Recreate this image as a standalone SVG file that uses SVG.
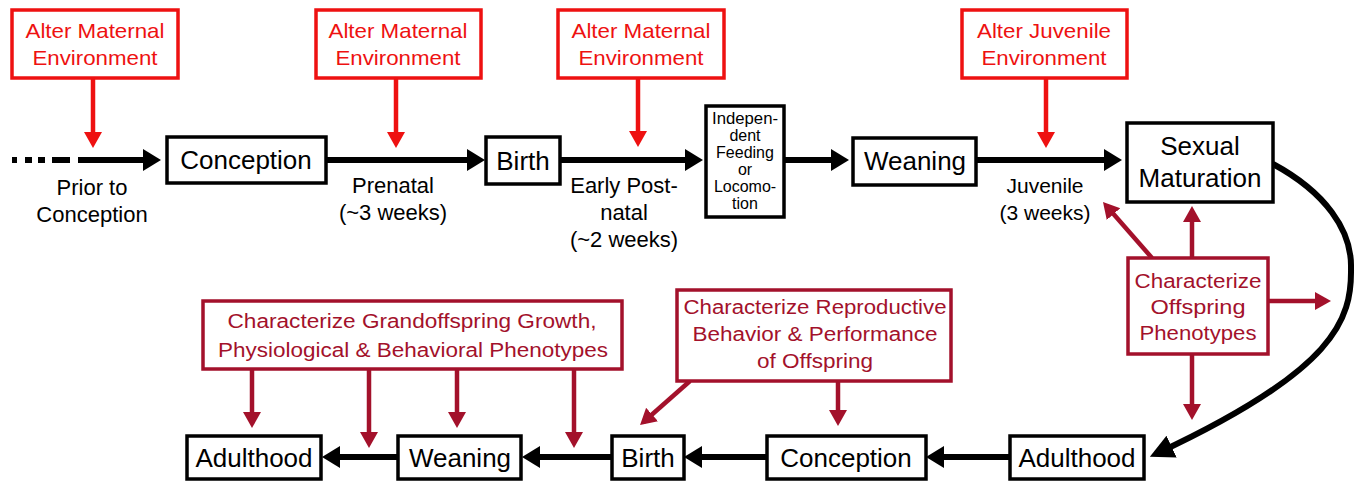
<svg xmlns="http://www.w3.org/2000/svg" width="1360" height="481" viewBox="0 0 1360 481">
<defs>
<style>
.node{fill:#fff;stroke:#000;stroke-width:3.5}
.red{fill:#fff;stroke:#ee1111;stroke-width:3.5}
.dred{fill:#fff;stroke:#a3112b;stroke-width:3.5}
.t{font-family:"Liberation Sans",Arial,sans-serif;text-anchor:middle;fill:#000}
.big{font-size:26px}
.lab{font-size:22px}
.rt{font-size:21px;fill:#ee1111}
.dt{font-size:20px;fill:#a3112b}
.bl{stroke:#000;stroke-width:6;fill:none}
.rl{stroke:#ee1111;stroke-width:4.5;fill:none}
.dl{stroke:#a3112b;stroke-width:4.5;fill:none}
</style>
<marker id="ab" markerUnits="userSpaceOnUse" markerWidth="20" markerHeight="24" refX="12" refY="11" orient="auto"><path d="M0,0 L18,11 L0,22 z" fill="#000"/></marker>
<marker id="abig" markerUnits="userSpaceOnUse" markerWidth="26" markerHeight="26" refX="15" refY="12" orient="auto"><path d="M0,0 L24,12 L0,24 z" fill="#000"/></marker>
<marker id="ar" markerUnits="userSpaceOnUse" markerWidth="20" markerHeight="22" refX="11" refY="9" orient="auto"><path d="M0,0 L16,9 L0,18 z" fill="#ee1111"/></marker>
<marker id="ad" markerUnits="userSpaceOnUse" markerWidth="20" markerHeight="22" refX="11" refY="9" orient="auto"><path d="M0,0 L16,9 L0,18 z" fill="#a3112b"/></marker>
</defs>
<rect width="1360" height="481" fill="#fff"/>

<g id="connectors">
<rect x="12" y="157" width="5" height="6" fill="#000"/>
<rect x="25" y="157" width="7" height="6" fill="#000"/>
<rect x="38" y="157" width="7" height="6" fill="#000"/>
<rect x="52" y="157" width="18" height="6" fill="#000"/>
<line class="bl" x1="78" y1="160" x2="155" y2="160" marker-end="url(#ab)"/>
<line class="bl" x1="326" y1="160" x2="479" y2="160" marker-end="url(#ab)"/>
<line class="bl" x1="560" y1="160" x2="697" y2="160" marker-end="url(#ab)"/>
<line class="bl" x1="784" y1="160" x2="843" y2="160" marker-end="url(#ab)"/>
<line class="bl" x1="976" y1="160" x2="1116" y2="160" marker-end="url(#ab)"/>
<path class="bl" d="M1273,164 C1325,192 1352,230 1351,268 C1352,320 1335,370 1158,453" marker-end="url(#abig)"/>
<line class="bl" x1="1010" y1="457" x2="932" y2="457" marker-end="url(#ab)"/>
<line class="bl" x1="767" y1="457" x2="690" y2="457" marker-end="url(#ab)"/>
<line class="bl" x1="612" y1="457" x2="528" y2="457" marker-end="url(#ab)"/>
<line class="bl" x1="398" y1="457" x2="328" y2="457" marker-end="url(#ab)"/>

<line class="rl" x1="93" y1="79" x2="93" y2="143" marker-end="url(#ar)"/>
<line class="rl" x1="396" y1="79" x2="396" y2="143" marker-end="url(#ar)"/>
<line class="rl" x1="638" y1="79" x2="638" y2="142" marker-end="url(#ar)"/>
<line class="rl" x1="1046" y1="79" x2="1046" y2="143" marker-end="url(#ar)"/>

<line class="dl" x1="1152" y1="258" x2="1106.3" y2="205.8" marker-end="url(#ad)"/>
<line class="dl" x1="1192" y1="258" x2="1192" y2="211" marker-end="url(#ad)"/>
<line class="dl" x1="1268" y1="301" x2="1326" y2="301" marker-end="url(#ad)"/>
<line class="dl" x1="1192" y1="354" x2="1192" y2="415" marker-end="url(#ad)"/>

<line class="dl" x1="690" y1="381" x2="643.8" y2="421.7" marker-end="url(#ad)"/>
<line class="dl" x1="838" y1="381" x2="838" y2="421" marker-end="url(#ad)"/>

<line class="dl" x1="252" y1="369" x2="252" y2="423" marker-end="url(#ad)"/>
<line class="dl" x1="369" y1="369" x2="369" y2="443" marker-end="url(#ad)"/>
<line class="dl" x1="457" y1="369" x2="457" y2="423" marker-end="url(#ad)"/>
<line class="dl" x1="574" y1="369" x2="574" y2="443" marker-end="url(#ad)"/>
</g>

<g id="alter1"><rect class="red" x="12" y="10" width="166" height="68"/>
<text class="t rt" x="95" y="38" textLength="139" lengthAdjust="spacingAndGlyphs">Alter Maternal</text><text class="t rt" x="95" y="65" textLength="125" lengthAdjust="spacingAndGlyphs">Environment</text></g>
<g id="alter2"><rect class="red" x="316" y="10" width="165" height="68"/>
<text class="t rt" x="398" y="38" textLength="139" lengthAdjust="spacingAndGlyphs">Alter Maternal</text><text class="t rt" x="398" y="65" textLength="125" lengthAdjust="spacingAndGlyphs">Environment</text></g>
<g id="alter3"><rect class="red" x="558" y="10" width="166" height="68"/>
<text class="t rt" x="641" y="38" textLength="139" lengthAdjust="spacingAndGlyphs">Alter Maternal</text><text class="t rt" x="641" y="65" textLength="125" lengthAdjust="spacingAndGlyphs">Environment</text></g>
<g id="alter4"><rect class="red" x="962" y="10" width="165" height="68"/>
<text class="t rt" x="1044" y="38" textLength="134" lengthAdjust="spacingAndGlyphs">Alter Juvenile</text><text class="t rt" x="1044" y="65" textLength="125" lengthAdjust="spacingAndGlyphs">Environment</text></g>

<g id="conception1"><rect class="node" x="167" y="137" width="159" height="46"/><text class="t big" x="246" y="169">Conception</text></g>
<g id="birth1"><rect class="node" x="486" y="137" width="74" height="47"/><text class="t big" x="523" y="170">Birth</text></g>
<g id="independent"><rect class="node" x="706" y="106" width="78" height="111"/>
<text class="t" font-size="16" x="745" y="124" textLength="66" lengthAdjust="spacingAndGlyphs">Indepen-</text>
<text class="t" font-size="16" x="745" y="141">dent</text>
<text class="t" font-size="16" x="745" y="158">Feeding</text>
<text class="t" font-size="16" x="745" y="175">or</text>
<text class="t" font-size="16" x="745" y="192">Locomo-</text>
<text class="t" font-size="16" x="745" y="209">tion</text></g>
<g id="weaning1"><rect class="node" x="853" y="138" width="123" height="47"/><text class="t big" x="915" y="170">Weaning</text></g>
<g id="sexual"><rect class="node" x="1127" y="123" width="146" height="79"/>
<text class="t big" x="1200" y="155">Sexual</text><text class="t big" x="1200" y="187">Maturation</text></g>

<g id="labels">
<text class="t lab" x="92" y="195">Prior to</text><text class="t lab" x="92" y="222">Conception</text>
<text class="t lab" x="393" y="193">Prenatal</text><text class="t lab" x="393" y="220">(~3 weeks)</text>
<text class="t lab" x="624" y="193">Early Post-</text><text class="t lab" x="624" y="220">natal</text><text class="t lab" x="624" y="247">(~2 weeks)</text>
<text class="t" font-size="21" x="1045" y="193">Juvenile</text><text class="t" font-size="21" x="1045" y="220">(3 weeks)</text>
</g>

<g id="char-offspring"><rect class="dred" x="1128" y="258" width="140" height="96"/>
<text class="t dt" x="1198" y="288" textLength="127" lengthAdjust="spacingAndGlyphs">Characterize</text><text class="t dt" x="1198" y="314" textLength="95" lengthAdjust="spacingAndGlyphs">Offspring</text><text class="t dt" x="1198" y="340" textLength="117" lengthAdjust="spacingAndGlyphs">Phenotypes</text></g>
<g id="char-repro"><rect class="dred" x="677" y="290" width="274" height="91"/>
<text class="t dt" x="815" y="314" textLength="263" lengthAdjust="spacingAndGlyphs">Characterize Reproductive</text><text class="t dt" x="815" y="341" textLength="245" lengthAdjust="spacingAndGlyphs">Behavior &amp; Performance</text><text class="t dt" x="815" y="368" textLength="116" lengthAdjust="spacingAndGlyphs">of Offspring</text></g>
<g id="char-grand"><rect class="dred" x="203" y="301" width="419" height="68"/>
<text class="t dt" x="412" y="328" textLength="369" lengthAdjust="spacingAndGlyphs">Characterize Grandoffspring Growth,</text><text class="t dt" x="413" y="357" textLength="390" lengthAdjust="spacingAndGlyphs">Physiological &amp; Behavioral Phenotypes</text></g>

<g id="adulthood1"><rect class="node" x="187" y="436" width="134" height="43"/><text class="t big" x="254" y="467">Adulthood</text></g>
<g id="weaning2"><rect class="node" x="398" y="436" width="123" height="43"/><text class="t big" x="460" y="467">Weaning</text></g>
<g id="birth2"><rect class="node" x="612" y="436" width="72" height="43"/><text class="t big" x="648" y="467">Birth</text></g>
<g id="conception2"><rect class="node" x="767" y="436" width="159" height="43"/><text class="t big" x="846" y="467">Conception</text></g>
<g id="adulthood2"><rect class="node" x="1010" y="436" width="134" height="43"/><text class="t big" x="1077" y="467">Adulthood</text></g>
</svg>
